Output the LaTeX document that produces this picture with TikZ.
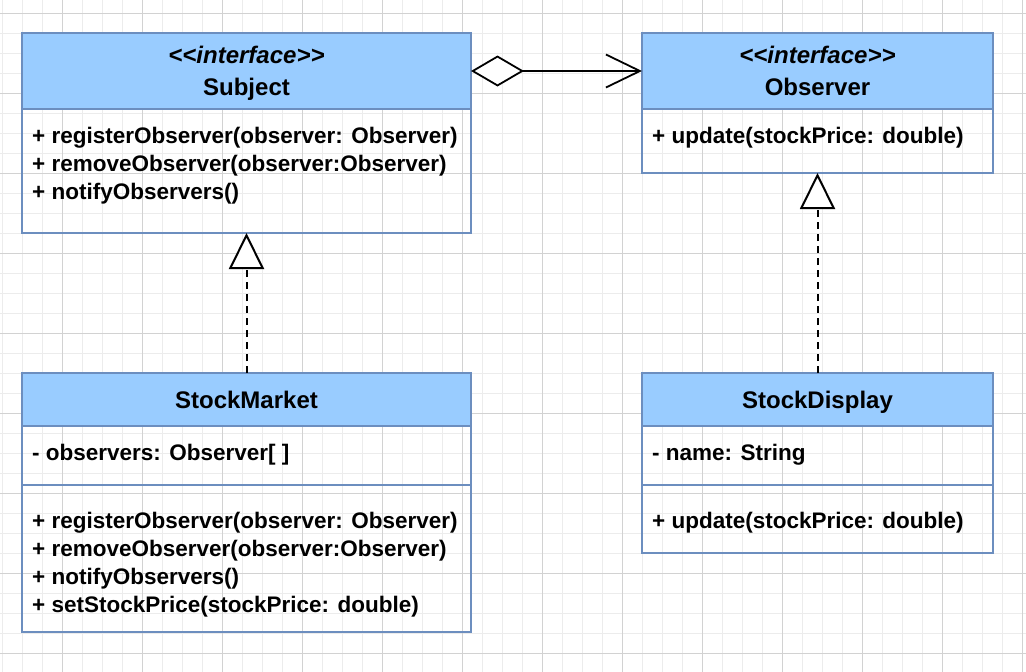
\documentclass[tikz,border=0pt]{standalone}
\usepackage{fontspec}
\setmainfont{Liberation Sans}
\usetikzlibrary{arrows.meta,positioning}
\definecolor{headfill}{HTML}{99CCFF}
\definecolor{boxline}{HTML}{6C8EBF}
\newcommand{\widthleft}{449}
\newcommand{\widthright}{351}
\newcommand{\headtall}{76}
\newcommand{\headshort}{53}
\newcommand{\fieldpart}{59}

\begin{document}
\begin{tikzpicture}[x=1pt,y=-1pt,
		head/.style={draw=boxline, fill=headfill, line width=1.5pt, rectangle, outer sep=0pt, inner sep=0pt, text depth=0pt, align=center, font=\fontsize{24}{32}\selectfont\bfseries},
		part/.style={draw=boxline, line width=1.5pt, rectangle, outer sep=0pt, inner sep=0pt},
		members/.style={anchor=base west, inner sep=0pt, align=left, font=\fontsize{22.5}{28}\selectfont\bfseries},
		realize/.style={line width=2pt, dash pattern=on 7pt off 5pt, -{Triangle[open, fill=white, length=36pt, width=35pt]}}]
		\useasboundingbox (0,0) rectangle (1026,672);
		% background grid
		\foreach \x in {2,22,...,1022} \draw[gray!15, line width=0.8pt] (\x,0) -- (\x,672);
		\foreach \y in {13,33,...,653} \draw[gray!15, line width=0.8pt] (0,\y) -- (1026,\y);
		\foreach \x in {62,142,...,1022} \draw[gray!35, line width=0.8pt] (\x,0) -- (\x,672);
		\foreach \y in {13,93,...,653} \draw[gray!35, line width=0.8pt] (0,\y) -- (1026,\y);
		% Subject
		\node[head, minimum width=\widthleft, minimum height=\headtall, anchor=north west] (0) at (22,33) {{\itshape <{}<interface>{}>}\\Subject};
		\node[part, minimum width=\widthleft, minimum height=124, below=0pt of 0] (1) {};
		\node[members] (1a) at (32,199) {+ registerObserver(observer: Observer)\\+ removeObserver(observer:Observer)\\+ notifyObservers()};
		% Observer
		\node[head, minimum width=\widthright, minimum height=\headtall, anchor=north west] (2) at (642,33) {{\itshape <{}<interface>{}>}\\Observer};
		\node[part, minimum width=\widthright, minimum height=64, below=0pt of 2] (3) {};
		\node[members] (3a) at (652,143) {+ update(stockPrice: double)};
		% StockMarket
		\node[head, minimum width=\widthleft, minimum height=\headshort, anchor=north west] (4) at (22,373) {StockMarket};
		\node[part, minimum width=\widthleft, minimum height=\fieldpart, below=0pt of 4] (5) {};
		\node[part, minimum width=\widthleft, minimum height=147, below=0pt of 5] (6) {};
		\node[members] (5a) at (32,460) {- observers: Observer[ ]};
		\node[members] (6a) at (32,612) {+ registerObserver(observer: Observer)\\+ removeObserver(observer:Observer)\\+ notifyObservers()\\+ setStockPrice(stockPrice: double)};
		% StockDisplay
		\node[head, minimum width=\widthright, minimum height=\headshort, anchor=north west] (7) at (642,373) {StockDisplay};
		\node[part, minimum width=\widthright, minimum height=\fieldpart, below=0pt of 7] (8) {};
		\node[part, minimum width=\widthright, minimum height=68, below=0pt of 8] (9) {};
		\node[members] (8a) at (652,460) {- name: String};
		\node[members] (9a) at (652,528) {+ update(stockPrice: double)};
		% relations
		\draw[line width=1.8pt, {Diamond[open, fill=white, length=53pt, width=31pt]}-{Straight Barb[length=34pt, width=33pt]}] (0.east) -- (2.west);
		\draw[realize] (4.north) -- (1.south);
		\draw[realize] (7.north) -- (3.south);
	\end{tikzpicture}
\end{document}
